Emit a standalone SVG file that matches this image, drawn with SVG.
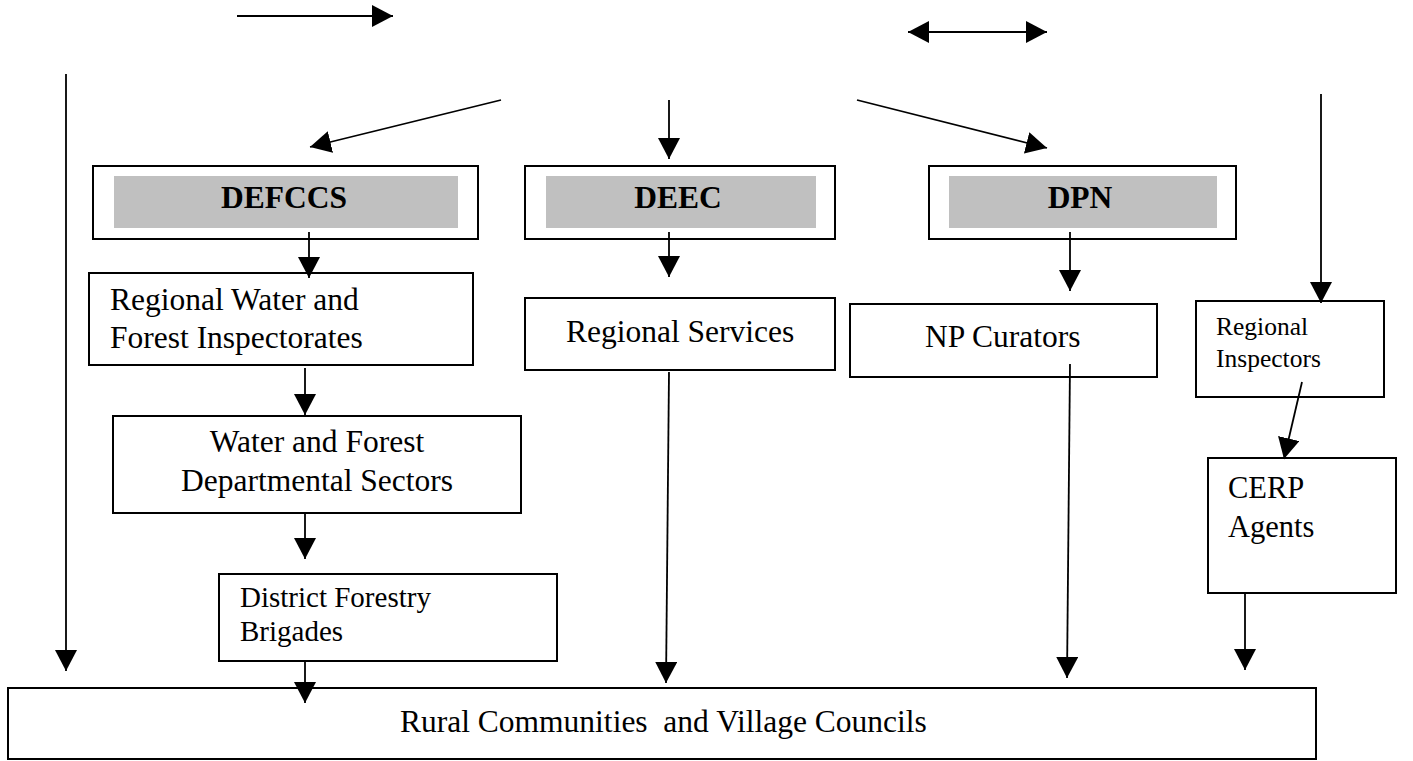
<svg xmlns="http://www.w3.org/2000/svg" width="1413" height="761" viewBox="0 0 1413 761">
<style>
.box{fill:#fff;stroke:#000;stroke-width:2}
.gray{fill:#c0c0c0;stroke:none}
.t{font-family:"Liberation Serif","Times New Roman",serif;font-size:31.5px;fill:#000}
.b{font-weight:bold;text-anchor:middle}
.c{text-anchor:middle}
.s29{font-size:29px}
.s25{font-size:25.5px}
.s30{font-size:30.5px}
.conn line{stroke:#000;stroke-width:1.8;fill:none;marker-end:url(#ah)}
</style>
<defs>
<marker id="ah" viewBox="0 0 21 22" refX="21" refY="11" markerWidth="21" markerHeight="22" markerUnits="userSpaceOnUse" orient="auto-start-reverse">
<path d="M0,0 L21,11 L0,22 z" fill="#000"/>
</marker>
</defs>
<rect width="1413" height="761" fill="#fff"/>

<g id="defccs">
<rect class="box" x="93" y="166" width="385" height="73"/>
<rect class="gray" x="114" y="176" width="344" height="52"/>
<text class="t b" x="284" y="208">DEFCCS</text>
</g>
<g id="deec">
<rect class="box" x="525" y="166" width="310" height="73"/>
<rect class="gray" x="546" y="176" width="270" height="52"/>
<text class="t b" x="678" y="208">DEEC</text>
</g>
<g id="dpn">
<rect class="box" x="929" y="166" width="307" height="73"/>
<rect class="gray" x="949" y="176" width="268" height="52"/>
<text class="t b" x="1080" y="208">DPN</text>
</g>
<g id="regional-water">
<rect class="box" x="89" y="273" width="384" height="92"/>
<text class="t" x="110" y="310">Regional Water and</text>
<text class="t" x="110" y="348">Forest Inspectorates</text>
</g>
<g id="water-forest">
<rect class="box" x="113" y="416" width="408" height="97"/>
<text class="t c" x="317" y="452">Water and Forest</text>
<text class="t c" x="317" y="491">Departmental Sectors</text>
</g>
<g id="district">
<rect class="box" x="219" y="574" width="338" height="87"/>
<text class="t s29" x="240" y="607">District Forestry</text>
<text class="t s29" x="240" y="641">Brigades</text>
</g>
<g id="regional-services">
<rect class="box" x="525" y="298" width="310" height="72"/>
<text class="t" x="566" y="342">Regional Services</text>
</g>
<g id="np-curators">
<rect class="box" x="850" y="304" width="307" height="73"/>
<text class="t" x="925" y="347">NP Curators</text>
</g>
<g id="regional-inspectors">
<rect class="box" x="1196" y="301" width="188" height="96"/>
<text class="t s25" x="1216" y="335">Regional</text>
<text class="t s25" x="1216" y="367">Inspectors</text>
</g>
<g id="cerp">
<rect class="box" x="1208" y="458" width="188" height="135"/>
<text class="t s30" x="1228" y="498">CERP</text>
<text class="t s30" x="1228" y="537">Agents</text>
</g>
<g id="rural">
<rect class="box" x="8" y="688" width="1308" height="71"/>
<text class="t" x="400" y="732" xml:space="preserve">Rural Communities  and Village Councils</text>
</g>

<g id="connectors" class="conn">
<line x1="237" y1="16" x2="393" y2="16"/>
<line x1="908" y1="32" x2="1047" y2="32" style="marker-start:url(#ah)"/>
<line x1="66" y1="74" x2="66" y2="671"/>
<line x1="501" y1="100" x2="310" y2="147"/>
<line x1="669" y1="100" x2="669" y2="159"/>
<line x1="857" y1="100" x2="1047" y2="148"/>
<line x1="1321" y1="94" x2="1321" y2="303"/>
<line x1="309" y1="232" x2="309" y2="278"/>
<line x1="305" y1="368" x2="305" y2="415"/>
<line x1="305" y1="513" x2="305" y2="559"/>
<line x1="305" y1="662" x2="305" y2="703"/>
<line x1="669" y1="232" x2="669" y2="277"/>
<line x1="669" y1="372" x2="666" y2="683"/>
<line x1="1070" y1="232" x2="1070" y2="291"/>
<line x1="1070" y1="364" x2="1067" y2="678"/>
<line x1="1302" y1="382" x2="1284" y2="459"/>
<line x1="1245" y1="593" x2="1245" y2="670"/>
</g>
</svg>
